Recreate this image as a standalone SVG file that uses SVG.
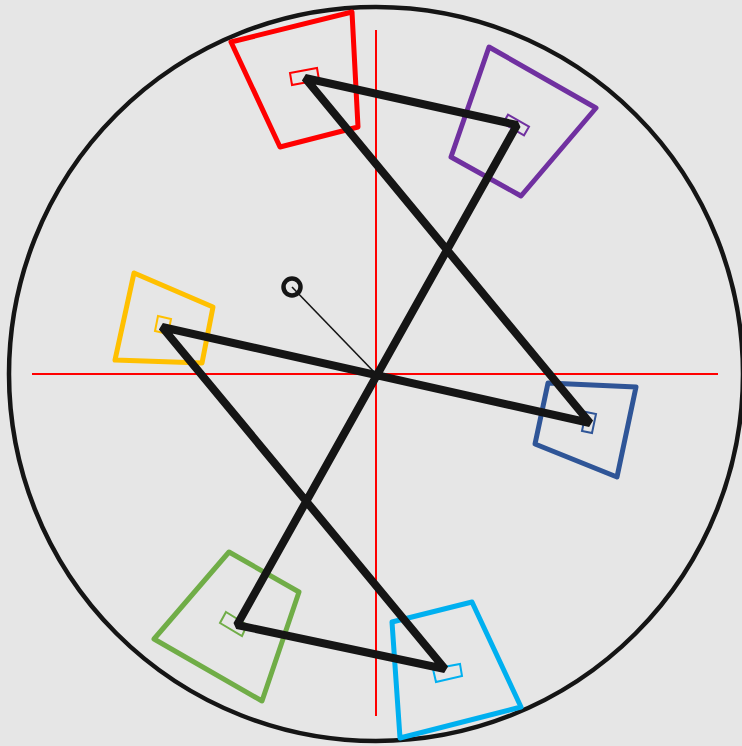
<svg xmlns="http://www.w3.org/2000/svg" width="742" height="746" viewBox="0 0 742 746">
<style>
.quad{fill:none;stroke-width:5;stroke-linejoin:round}
.small{fill:none;stroke-width:2}
.axis{stroke:#ff0000;stroke-width:2}
</style>
<rect x="0" y="0" width="742" height="746" fill="#e6e6e6"/>
<circle cx="376" cy="374" r="367" fill="none" stroke="#151515" stroke-width="4.5"/>
<g id="axes">
<line class="axis" x1="376" y1="30" x2="376" y2="716"/>
<line class="axis" x1="32" y1="374" x2="718" y2="374"/>
</g>
<g id="node-red" stroke="#ff0000">
<polygon class="quad" points="231,42 352,12 358,127 280,147"/>
<polygon class="small" points="290,73 317,68 319,80 292,85"/>
</g>
<g id="node-purple" stroke="#7030a0">
<polygon class="quad" points="489,47 596,108 521,196 451,157"/>
<polygon class="small" points="508,114.7 529,126.7 524,135.3 503,123.3"/>
</g>
<g id="node-yellow" stroke="#ffc000">
<polygon class="quad" points="134,273 213,307 202,363 115,360"/>
<polygon class="small" points="158,316 171,319 168,334 155,331"/>
</g>
<g id="node-blue" stroke="#2f5597">
<polygon class="quad" points="548,383 636,387 617,477 535,444"/>
<polygon class="small" points="586,412 596,414 592,433 582,431"/>
</g>
<g id="node-green" stroke="#70ad47">
<polygon class="quad" points="229,552 299,592 262,701 154,639"/>
<polygon class="small" points="226,612 247,625 242,636 220,623"/>
</g>
<g id="node-cyan" stroke="#00b0f0">
<polygon class="quad" points="392,622 472,602 521,707 400,738"/>
<polygon class="small" points="433,669 460,664 462,676 436,682"/>
</g>
<g id="connectors" fill="none" stroke="#151515">
<polygon points="305,78 517,125 237,625 445,669 162,327 590,423" stroke-width="8" stroke-linejoin="bevel"/>
<line x1="292" y1="287" x2="376" y2="374" stroke-width="1.6"/>
</g>
<g id="node-target">
<circle cx="292" cy="287" r="8.5" fill="none" stroke="#151515" stroke-width="4.5"/>
</g>
</svg>
